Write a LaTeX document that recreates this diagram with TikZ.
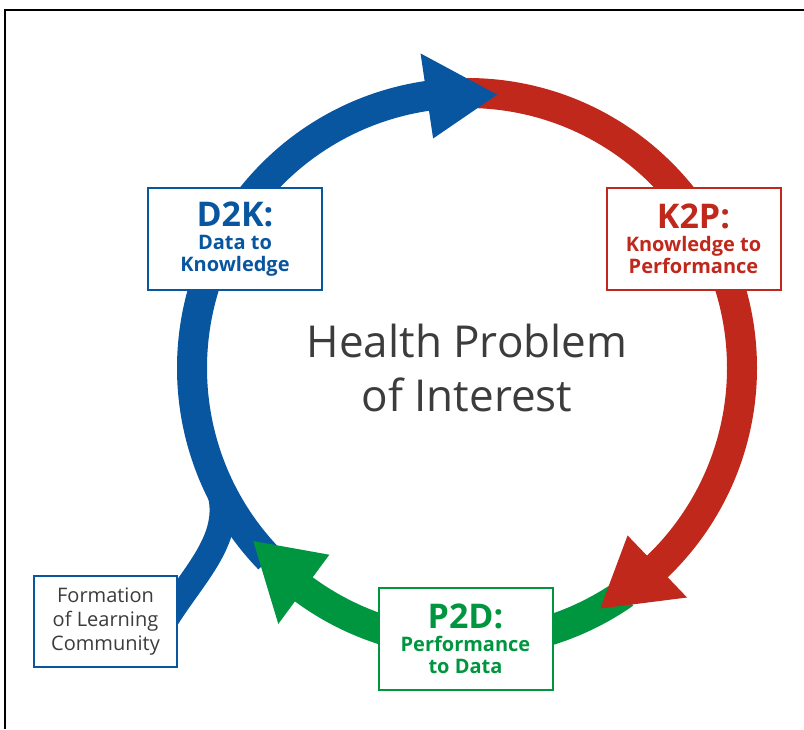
\documentclass[tikz,border=0pt]{standalone}
\usepackage{fontspec}
\setmainfont{Open Sans}
\usetikzlibrary{calc}

\definecolor{cycleblue}{RGB}{8,86,160}
\definecolor{cyclered}{RGB}{192,40,28}
\definecolor{cyclegreen}{RGB}{0,150,64}
\definecolor{textgray}{RGB}{60,60,60}

\begin{document}
\begin{tikzpicture}[
    x=1pt, y=1pt,
    band/.style        = {line width=30pt, line cap=butt},
    branch/.style      = {line width=26pt, line cap=butt, draw=cycleblue},
    frame-line/.style  = {line width=1.5pt, draw=black},
    stage-box/.style   = {draw, line width=2pt, fill=white, inner sep=0pt,
                          align=center, minimum width=174pt, minimum height=102pt,
                          font=\bfseries\fontsize{20}{22}\selectfont},
    topic-lbl/.style   = {align=center, text=textgray,
                          font=\fontsize{44}{54}\selectfont},
    community-box/.style = {draw=cycleblue, line width=2pt, fill=white,
                          inner sep=0pt, align=center, text=textgray,
                          minimum width=143pt, minimum height=91pt,
                          font=\fontsize{20}{24}\selectfont}
  ]

\useasboundingbox (0,0) rectangle (804,729);

% =========================================================
% Ring geometry: centre (hub), mid radius \rr, band 30pt
% =========================================================
\coordinate (hub) at (467,361);
\def\rr{275}

% arrow head on the ring: #1 colour, #2 base angle, #3 tip angle
\newcommand{\ringhead}[3]{%
  \fill[#1] ($(hub)+(#2:\rr-43)$) -- ($(hub)+(#3:\rr)$)
    -- ($(hub)+(#2:\rr+43)$) -- cycle;
}

% frame corner (top and left edges only)
\draw[frame-line] (4,719) -- (804,719);
\draw[frame-line] (5,719) -- (5,0);

% branch joining the learning community to the ring
\coordinate (branch-foot) at (166,110);
\draw[branch] (branch-foot) to[out=58, in=-66] ($(hub)+(204:\rr)$);

% ring bands
\draw[band, cycleblue]  ($(hub)+(224:\rr)$) arc[start angle=224, end angle=97, radius=\rr];
\draw[band, cyclered]   ($(hub)+(90:\rr)$)  arc[start angle=90, end angle=-47, radius=\rr];
\draw[band, cyclegreen] ($(hub)+(-55:\rr)$) arc[start angle=-55, end angle=-127.4, radius=\rr];

% arrow heads
\ringhead{cycleblue}{98.4}{83.7}
\ringhead{cyclered}{-46.2}{-61}
\ringhead{cyclegreen}{-126.4}{-141}

% =========================================================
% Labels
% =========================================================
\newcommand{\stagecode}[1]{{\fontsize{34}{34}\selectfont #1}}

\node[stage-box, draw=cycleblue, text=cycleblue] (d2k) at (235,490)
  {\stagecode{D2K:}\\[1pt] Data to\\ Knowledge};
\node[stage-box, draw=cyclered, text=cyclered] (k2p) at (693.5,490)
  {\stagecode{K2P:}\\[1pt] Knowledge to\\ Performance};
\node[stage-box, draw=cyclegreen, text=cyclegreen] (p2d) at (465.5,90)
  {\stagecode{P2D:}\\[1pt] Performance\\ to Data};

\node[community-box] (community) at (105.5,107.5)
  {Formation\\ of Learning\\ Community};

\node[topic-lbl] (topic) at (hub) {Health Problem\\ of Interest};

\end{tikzpicture}
\end{document}
